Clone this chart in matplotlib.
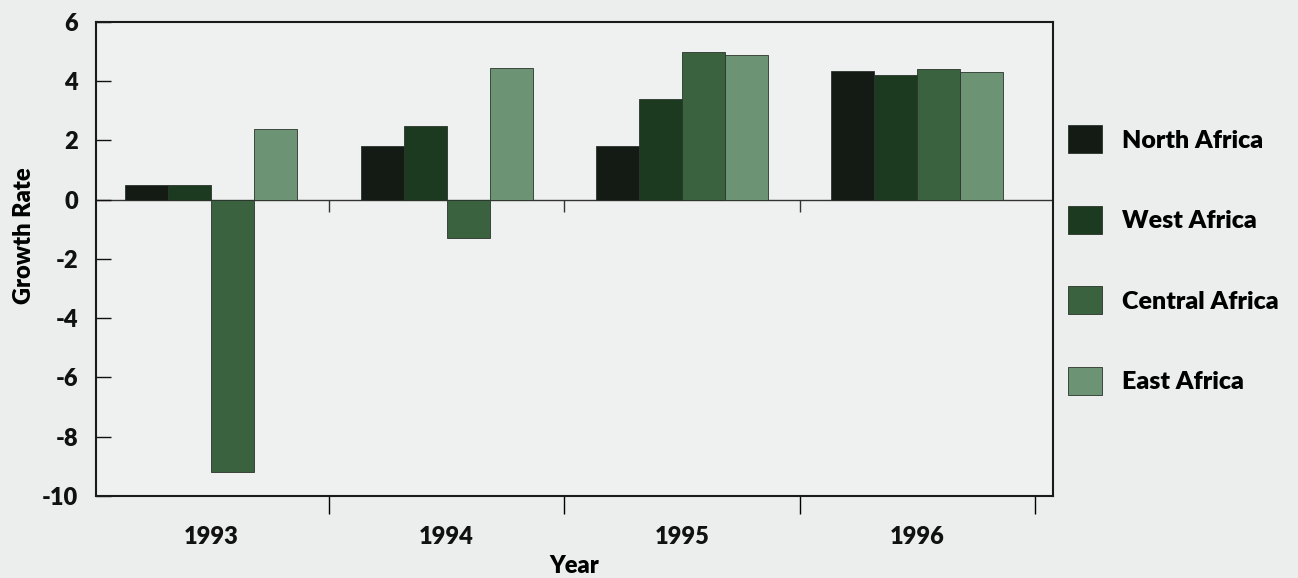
import numpy as np
import matplotlib
matplotlib.use('Agg')
import matplotlib.pyplot as plt

# ── Data ──────────────────────────────────────────────────────────────────────

years = ['1993', '1994', '1995', '1996']
regions = ['North Africa', 'West Africa', 'Central Africa', 'East Africa']

north_africa   = [0.5, 1.8, 1.8, 4.35]
west_africa    = [0.5, 2.5, 3.4, 4.2]
central_africa = [-9.2, -1.3, 5.0, 4.4]
east_africa    = [2.4, 4.45, 4.9, 4.3]

y_ticks = [-10, -8, -6, -4, -2, 0, 2, 4, 6]

# ── Style ─────────────────────────────────────────────────────────────────────

colors = ['#141b14', '#1c3a20', '#3a623f', '#6c9373']
bg = '#eceeed'
plt.rcParams['font.family'] = ['Lato', 'DejaVu Sans']
W = 'heavy'

fig = plt.figure(figsize=(12.98, 5.78), dpi=100, facecolor=bg)
ax = fig.add_axes([0.074, 0.142, 0.737, 0.820], facecolor='#eff1f0')

x = np.arange(len(years))
width = 0.183
series = [north_africa, west_africa, central_africa, east_africa]
for i, (vals, name, col) in enumerate(zip(series, regions, colors)):
    ax.bar(x + (i - 1.5) * width, vals, width, color=col, label=name,
           edgecolor='#2a332b', linewidth=0.6, zorder=2)

# zero line with small group-separator ticks
ax.axhline(0, color='#333333', lw=1.0, zorder=1)
bounds = x[:-1] + 0.5
ax.vlines(bounds, 0, -0.4, color='#333333', lw=1.0, zorder=1)

ax.set_xlim(-0.49, 3.575)
ax.set_ylim(-10, 6)

# y axis
ax.set_yticks(y_ticks)
ax.set_yticklabels([str(v) for v in y_ticks], fontweight=W)
ax.tick_params(axis='y', direction='in', length=11, width=1.0, pad=13,
               labelsize=17, colors='#111111')

# x axis: ticks between groups, labels at group centres
ax.set_xticks(x + 0.5)
ax.set_xticklabels([])
ax.set_xticks(x, minor=True)
ax.set_xticklabels(years, minor=True, fontweight=W)
ax.tick_params(axis='x', which='major', direction='out', length=13, width=1.0)
ax.tick_params(axis='x', which='minor', length=0, pad=22, labelsize=17,
               colors='#111111')

for s in ax.spines.values():
    s.set_linewidth(1.5)
    s.set_color('#1a1a1a')

ax.set_xlabel('Year', fontsize=17, fontweight=W, labelpad=5)
ax.set_ylabel('Growth Rate', fontsize=17, fontweight=W)
ax.yaxis.set_label_coords(-0.064, 0.55)

leg = ax.legend(loc='upper left', bbox_to_anchor=(0.813, 0.805),
                bbox_transform=fig.transFigure, frameon=False,
                prop={'size': 18, 'weight': W},
                handlelength=1.35, handleheight=1.35,
                labelspacing=2.1, handletextpad=0.8, borderpad=0)

fig.savefig('out.png', dpi=100, facecolor=bg)
